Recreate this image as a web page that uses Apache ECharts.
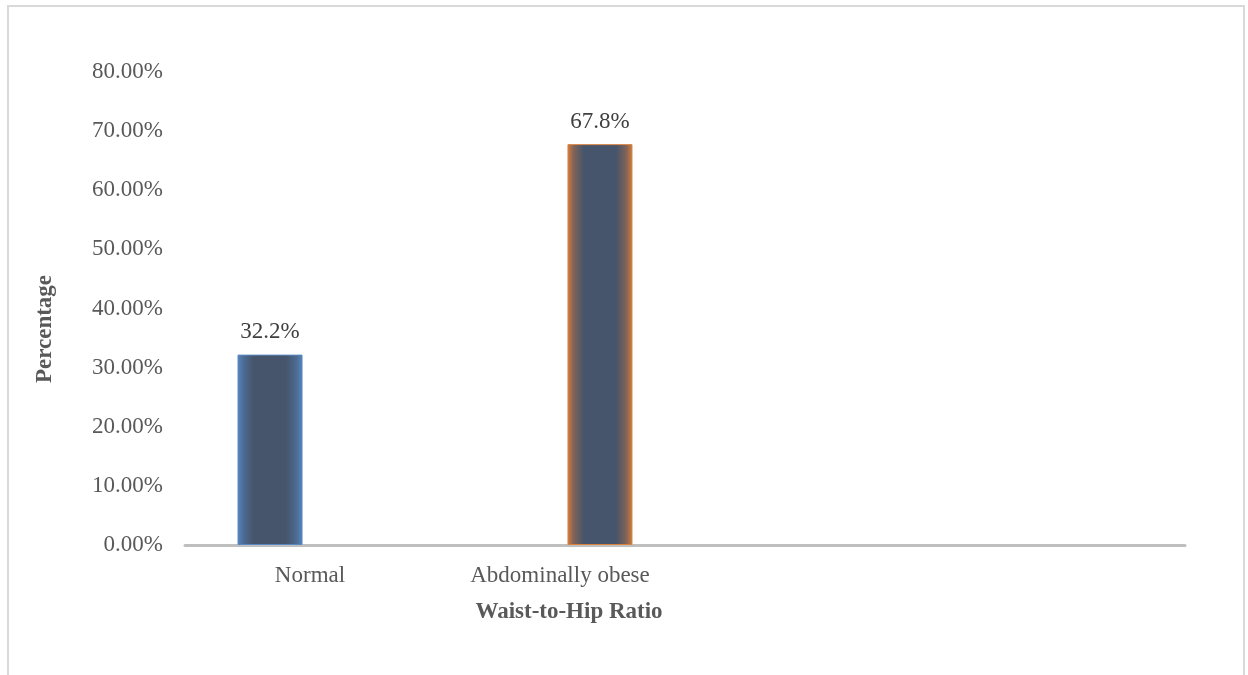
<!DOCTYPE html>
<html>
<head>
<meta charset="utf-8">
<script src="https://cdn.jsdelivr.net/npm/echarts@6/dist/echarts.min.js"></script>
<style>
html,body{margin:0;padding:0;background:#fff;}
#chart{width:1248px;height:675px;}
</style>
</head>
<body>
<div id="chart"></div>
<script>
var categories = ['Normal', 'Abdominally obese', '', ''];
var normalValues = [32.2, null, null, null];
var obeseValues = [null, 67.8, null, null];
var yTicks = { min: 0, max: 80, interval: 10 };
var yAxisTitle = 'Percentage';
var xAxisTitle = 'Waist-to-Hip Ratio';

function edgeFill(edge, mid) {
  return {
    type: 'linear', x: 0, y: 0, x2: 1, y2: 0,
    colorStops: [
      { offset: 0, color: edge },
      { offset: 0.1, color: mid },
      { offset: 0.25, color: '#46556b' },
      { offset: 0.75, color: '#46556b' },
      { offset: 0.9, color: mid },
      { offset: 1, color: edge }
    ]
  };
}

var chart = echarts.init(document.getElementById('chart'), null, { renderer: 'canvas' });
var font = '"Liberation Serif", "Times New Roman", serif';
chart.setOption({
  animation: false,
  grid: { left: 185, right: 63, top: 72, bottom: 130, containLabel: false },
  graphic: [
    { type: 'rect', shape: { x: 8, y: 6, width: 1236, height: 700 },
      style: { fill: 'none', stroke: '#d9d9d9', lineWidth: 2 }, silent: true },
    { type: 'text', rotation: Math.PI / 2, x: 45, y: 329,
      style: { text: yAxisTitle, font: 'bold 23px ' + font, fill: '#595959', align: 'center', verticalAlign: 'middle' } },
    { type: 'text', x: 569, y: 612,
      style: { text: xAxisTitle, font: 'bold 23px ' + font, fill: '#595959', align: 'center', verticalAlign: 'middle' } }
  ],
  xAxis: {
    type: 'category',
    data: categories,
    axisLine: { show: true, lineStyle: { color: '#bfbfbf', width: 3 } },
    axisTick: { show: false },
    axisLabel: { color: '#595959', fontFamily: font, fontSize: 23, margin: 19 },
    splitLine: { show: false }
  },
  yAxis: {
    type: 'value',
    min: yTicks.min, max: yTicks.max, interval: yTicks.interval,
    axisLine: { show: false },
    axisTick: { show: false },
    splitLine: { show: false },
    axisLabel: {
      color: '#595959', fontFamily: font, fontSize: 23, margin: 22,
      formatter: function (v) { return v.toFixed(2) + '%'; }
    }
  },
  series: [
    {
      type: 'bar', name: 'Normal', data: normalValues,
      barWidth: 65, barGap: '23%',
      itemStyle: { color: edgeFill('#5585bd', '#4c6a92'), borderColor: '#5a88c0', borderWidth: 1 },
      label: { show: true, position: 'top', distance: 11, color: '#404040', fontFamily: font, fontSize: 23,
        formatter: function (p) { return p.value.toFixed(1) + '%'; } }
    },
    {
      type: 'bar', name: 'Abdominally obese', data: obeseValues,
      barWidth: 65,
      itemStyle: { color: edgeFill('#d27b3d', '#7f6258'), borderColor: '#d88340', borderWidth: 1 },
      label: { show: true, position: 'top', distance: 11, color: '#404040', fontFamily: font, fontSize: 23,
        formatter: function (p) { return p.value.toFixed(1) + '%'; } }
    }
  ]
});
</script>
</body>
</html>
